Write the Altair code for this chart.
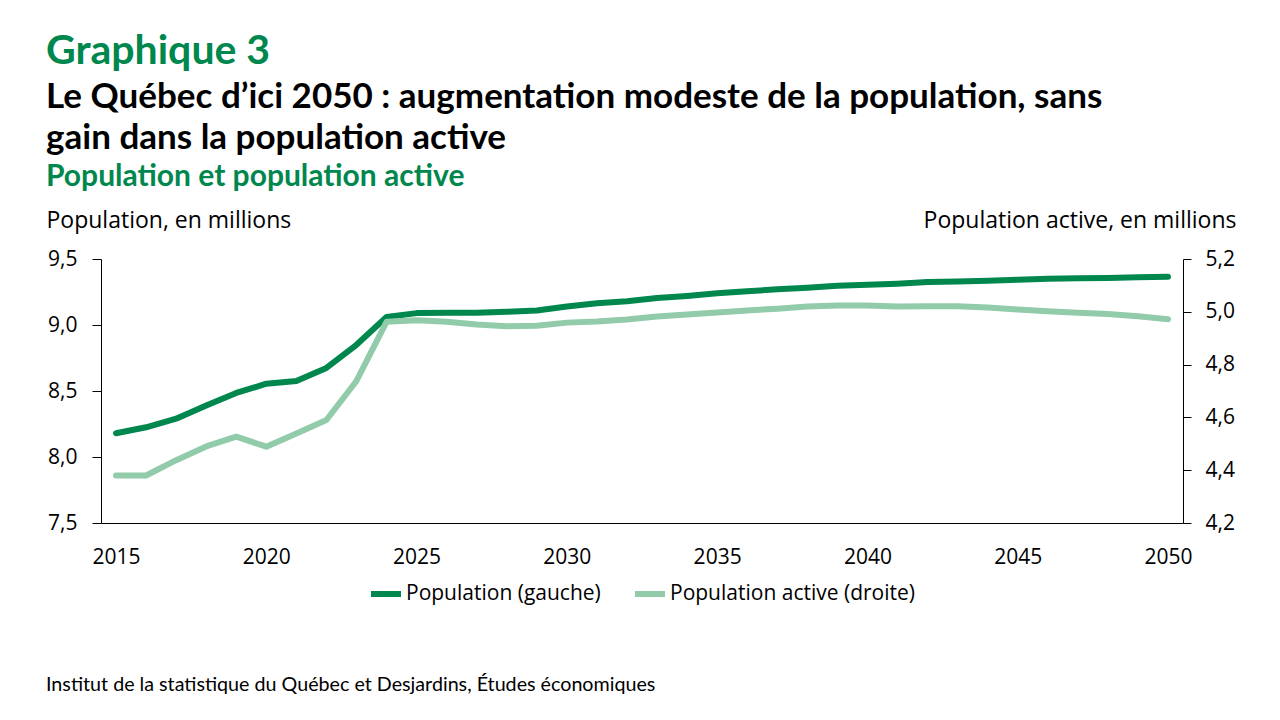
import altair as alt
import pandas as pd

years = list(range(2015, 2051))
population = [8.18, 8.225, 8.29, 8.39, 8.485, 8.555, 8.575, 8.675, 8.85, 9.06,
              9.09, 9.092, 9.093, 9.10, 9.11, 9.14, 9.165, 9.18, 9.205, 9.22,
              9.24, 9.255, 9.27, 9.283, 9.297, 9.305, 9.313, 9.325, 9.33, 9.335,
              9.342, 9.35, 9.355, 9.357, 9.362, 9.365]
pop_active = [4.38, 4.38, 4.438, 4.49, 4.527, 4.489, 4.539, 4.59, 4.738, 4.962,
              4.968, 4.962, 4.952, 4.945, 4.947, 4.959, 4.963, 4.971, 4.982, 4.99,
              4.997, 5.005, 5.012, 5.02, 5.024, 5.024, 5.02, 5.021, 5.021, 5.016,
              5.009, 5.002, 4.996, 4.992, 4.983, 4.972]

series_names = ["Population (gauche)", "Population active (droite)"]
series_colors = ["#00874E", "#91CBA9"]
left_ticks = [7.5, 8.0, 8.5, 9.0, 9.5]
right_ticks = [4.2, 4.4, 4.6, 4.8, 5.0, 5.2]
x_ticks = [2015, 2020, 2025, 2030, 2035, 2040, 2045, 2050]

title_main = "Graphique 3"
title_lines = ["Le Québec d’ici 2050 : augmentation modeste de la population, sans",
               "gain dans la population active"]
title_sub = "Population et population active"
left_title = "Population, en millions"
right_title = "Population active, en millions"
source = "Institut de la statistique du Québec et Desjardins, Études économiques"

df_pop = pd.DataFrame({"year": years, "v": population, "s": series_names[0]})
df_act = pd.DataFrame({"year": years, "v": pop_active, "s": series_names[1]})

TFONT = "Lato"
AFONT = "Open Sans"

color_scale = alt.Scale(domain=series_names, range=series_colors)
xenc = alt.X("year:Q", scale=alt.Scale(domain=[2014.5, 2050.5], nice=False, zero=False),
             axis=alt.Axis(values=x_ticks, format="d", ticks=False, grid=False,
                           labelPadding=40, labelBaseline="alphabetic",
                           domainColor="black", labelColor="black",
                           labelFont=AFONT, labelFontSize=21, title=None))

label_expr = "replace(format(datum.value, '.1f'), '.', ',')"

legend = alt.Legend(orient="none", legendX=267, legendY=317,
                    direction="horizontal", title=None,
                    symbolType="stroke", symbolSize=900,
                    symbolStrokeWidth=6, labelOffset=2, labelLimit=0,
                    columnPadding=22, labelFont=AFONT,
                    labelFontSize=21, labelColor="black", padding=0)

line_pop = alt.Chart(df_pop).mark_line(strokeWidth=6, strokeCap="round", strokeJoin="round").encode(
    x=xenc,
    y=alt.Y("v:Q", scale=alt.Scale(domain=[7.5, 9.5], nice=False, zero=False),
            axis=alt.Axis(orient="left", values=left_ticks, labelExpr=label_expr, grid=False,
                          tickSize=9, labelPadding=15, domainColor="black", tickColor="black",
                          labelColor="black", labelFont=AFONT, labelFontSize=21,
                          title=left_title, titleAngle=0, titleAlign="left",
                          titleBaseline="alphabetic", titleX=-55, titleY=-32,
                          titleFont=AFONT, titleFontSize=23, titleFontWeight="normal",
                          titleColor="black")),
    color=alt.Color("s:N", scale=color_scale, legend=legend),
)

line_act = alt.Chart(df_act).mark_line(strokeWidth=6, strokeCap="round", strokeJoin="round").encode(
    x=xenc,
    y=alt.Y("v:Q", scale=alt.Scale(domain=[4.2, 5.2], nice=False, zero=False),
            axis=alt.Axis(orient="right", values=right_ticks, labelExpr=label_expr, grid=False,
                          tickSize=8, labelPadding=14, domainColor="black", tickColor="black",
                          labelColor="black", labelFont=AFONT, labelFontSize=21,
                          title=right_title, titleAngle=0, titleAlign="right",
                          titleBaseline="alphabetic", titleX=53, titleY=-32,
                          titleFont=AFONT, titleFontSize=23, titleFontWeight="normal",
                          titleColor="black")),
    color=alt.Color("s:N", scale=color_scale, legend=legend),
)


def text_layer(txt, y, size, color, weight):
    d = pd.DataFrame({"t": [txt]})
    return alt.Chart(d).mark_text(align="left", baseline="alphabetic", font=TFONT,
                                  fontSize=size, color=color, fontWeight=weight).encode(
        x=alt.value(-55), y=alt.value(y), text="t:N")


texts = [
    text_layer(title_main, -195, 41, "#00874E", "bold"),
    text_layer(title_lines[0], -151, 35, "black", "bold"),
    text_layer(title_lines[1], -110, 35, "black", "bold"),
    text_layer(title_sub, -73, 30, "#00874E", "bold"),
    text_layer(source, 432, 19.7, "black", "normal"),
]

chart = alt.layer(line_pop, line_act, *texts).resolve_scale(y="independent").properties(
    width=1082, height=264,
    autosize=alt.AutoSizeParams(type="none"),
    padding={"left": 93, "top": 251, "right": 89, "bottom": 185},
).configure_view(stroke=None)

chart.save("out.html", embed_options={"renderer": "svg", "actions": False})
